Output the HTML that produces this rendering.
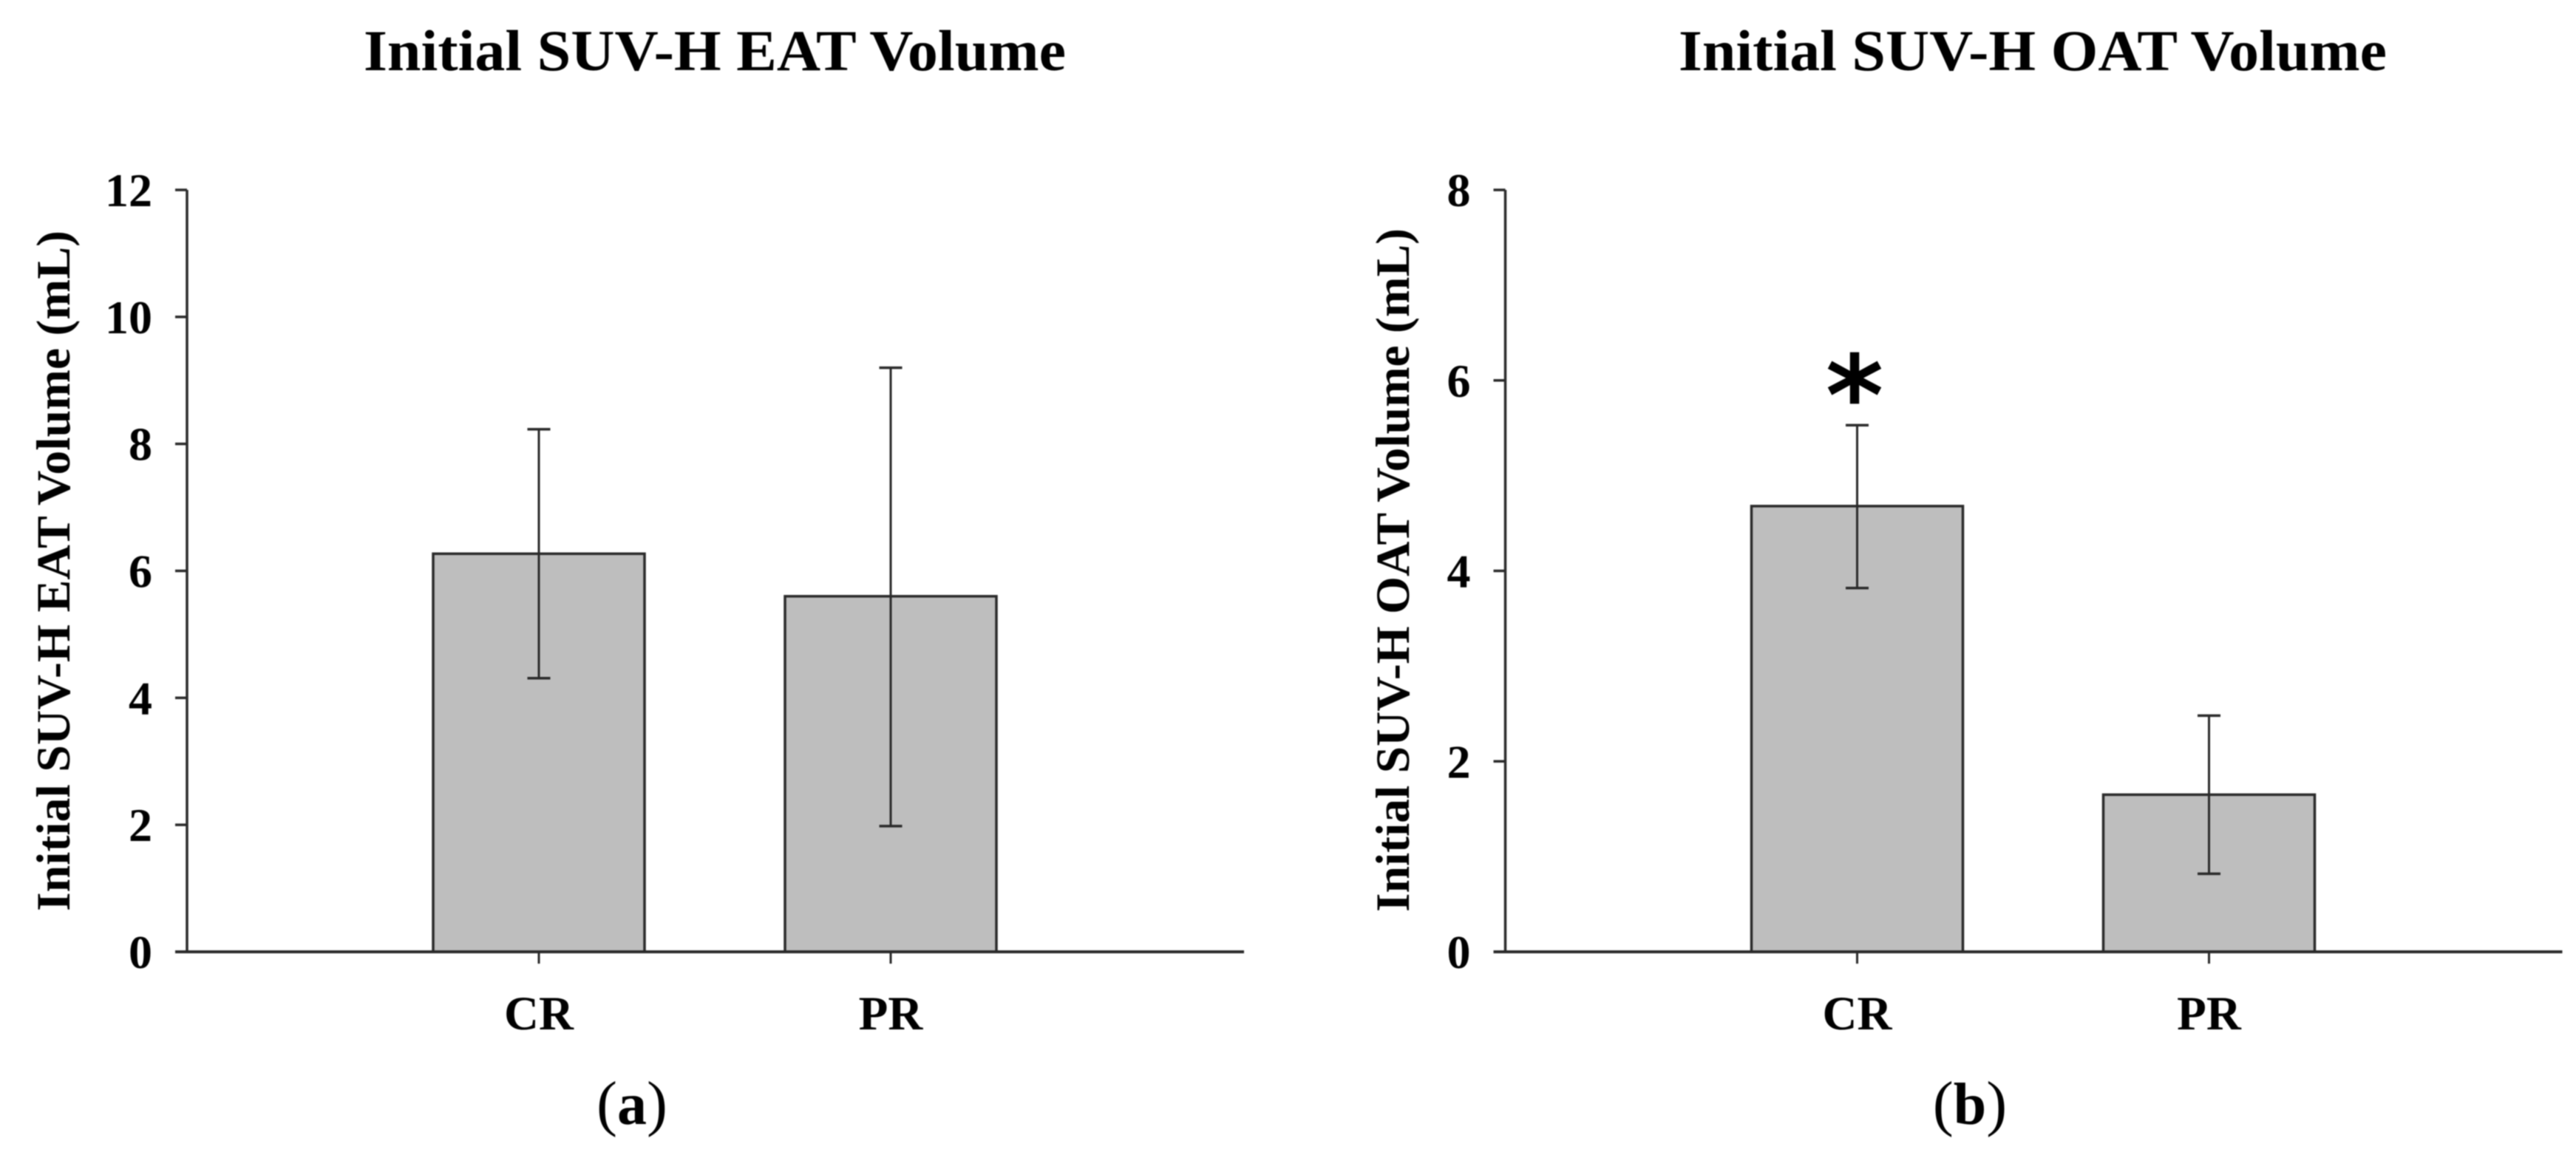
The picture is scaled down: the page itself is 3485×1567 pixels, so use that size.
<!DOCTYPE html>
<html lang="en">
<head>
<meta charset="utf-8">
<title>Initial SUV-H EAT and OAT Volume</title>
<style>
  html, body { margin: 0; padding: 0; background: #ffffff; }
  #figure { display: block; width: 3485px; height: 1567px; filter: blur(0.7px); }
  text { font-family: "Liberation Serif", "Times New Roman", serif; font-weight: 700; fill: #000; }
</style>
</head>
<body>
<svg id="figure" xmlns="http://www.w3.org/2000/svg" width="3485" height="1567" viewBox="0 0 3485 1567">
  <rect x="0" y="0" width="3485" height="1567" fill="#ffffff"/>
  <g id="panel-a">
    <text x="967" y="95" font-size="78" text-anchor="middle" textLength="950" lengthAdjust="spacingAndGlyphs">Initial SUV-H EAT Volume</text>
    <text transform="translate(94 1233) rotate(-90)" x="0" y="0" font-size="65" textLength="921" lengthAdjust="spacingAndGlyphs">Initial SUV-H EAT Volume (mL)</text>
    <text x="855" y="1521" font-size="80" text-anchor="middle"><tspan font-weight="400" font-size="84">(</tspan>a<tspan font-weight="400" font-size="84">)</tspan></text>
  </g>
  <g id="panel-b">
    <text x="2750" y="95" font-size="78" text-anchor="middle" textLength="958" lengthAdjust="spacingAndGlyphs">Initial SUV-H OAT Volume</text>
    <text transform="translate(1906 1234) rotate(-90)" x="0" y="0" font-size="65" textLength="925" lengthAdjust="spacingAndGlyphs">Initial SUV-H OAT Volume (mL)</text>
    <text x="2509" y="588" font-size="150" text-anchor="middle" style="font-family:'DejaVu Sans',sans-serif">*</text>
    <text x="2665" y="1521" font-size="80" text-anchor="middle"><tspan font-weight="400" font-size="84">(</tspan>b<tspan font-weight="400" font-size="84">)</tspan></text>
  </g>
</svg>
<script>
var categories = ['CR', 'PR'];

var eatTicks = [0, 2, 4, 6, 8, 10, 12];
var eatMeans = [6.27, 5.6];
var eatErrUpper = [8.23, 9.2];
var eatErrLower = [4.31, 1.98];

var oatTicks = [0, 2, 4, 6, 8];
var oatMeans = [4.68, 1.65];
var oatErrUpper = [5.53, 2.48];
var oatErrLower = [3.82, 0.82];

var SVG_NS = 'http://www.w3.org/2000/svg';
var LINE_COLOR = '#2a2a2a';

function make(parent, tag, attrs) {
  var el = document.createElementNS(SVG_NS, tag);
  Object.keys(attrs).forEach(function (k) { el.setAttribute(k, attrs[k]); });
  parent.appendChild(el);
  return el;
}

function drawChart(parent, axisX, maxTick, ticks, means, upper, lower) {
  var y0 = 1288, yTop = 257, step = 476, barW = 286, capW = 31;
  var yScale = function (v) { return y0 - (v / maxTick) * (y0 - yTop); };
  var xScale = function (i) { return axisX + step * (i + 1); };

  ticks.forEach(function (t) {
    var tick = make(parent, 'line', { x1: axisX - 16, x2: axisX, y1: yScale(t), y2: yScale(t), stroke: LINE_COLOR, 'stroke-width': 3.5 });
    
    
    var label = make(parent, 'text', { x: axisX - 47, y: yScale(t) + 22, 'font-size': 64, 'text-anchor': 'end' });
    label.textContent = String(t);
    
    
  });

  categories.forEach(function (c, i) {
    var cx = xScale(i);
    var bar = make(parent, 'rect', { x: cx - barW / 2, y: yScale(means[i]), width: barW, height: y0 - yScale(means[i]), fill: '#bebebe', stroke: LINE_COLOR, 'stroke-width': 3.5 });
    
    

    var stem = make(parent, 'line', { x1: cx, x2: cx, y1: yScale(upper[i]), y2: yScale(lower[i]), stroke: LINE_COLOR, 'stroke-width': 3 });
    
    

    var capTop = make(parent, 'line', { x1: cx - capW / 2, x2: cx + capW / 2, y1: yScale(upper[i]), y2: yScale(upper[i]), stroke: LINE_COLOR, 'stroke-width': 3.5 });
    
    

    var capBottom = make(parent, 'line', { x1: cx - capW / 2, x2: cx + capW / 2, y1: yScale(lower[i]), y2: yScale(lower[i]), stroke: LINE_COLOR, 'stroke-width': 3.5 });
    
    

    var xTick = make(parent, 'line', { x1: cx, x2: cx, y1: y0, y2: y0 + 16, stroke: LINE_COLOR, 'stroke-width': 3 });
    
    

    var xLabel = make(parent, 'text', { x: cx, y: 1393, 'font-size': 65, 'text-anchor': 'middle' });
    xLabel.textContent = c;
    
    
  });

  var yAxis = make(parent, 'line', { x1: axisX, x2: axisX, y1: yTop, y2: y0, stroke: LINE_COLOR, 'stroke-width': 3.5 });
  
  

  var xAxis = make(parent, 'line', { x1: axisX - 16, x2: axisX + 1430, y1: y0, y2: y0, stroke: LINE_COLOR, 'stroke-width': 4 });
  
  
}

drawChart(document.getElementById('panel-a'), 253, 12, eatTicks, eatMeans, eatErrUpper, eatErrLower);
drawChart(document.getElementById('panel-b'), 2036.5, 8, oatTicks, oatMeans, oatErrUpper, oatErrLower);
</script>
</body>
</html>
